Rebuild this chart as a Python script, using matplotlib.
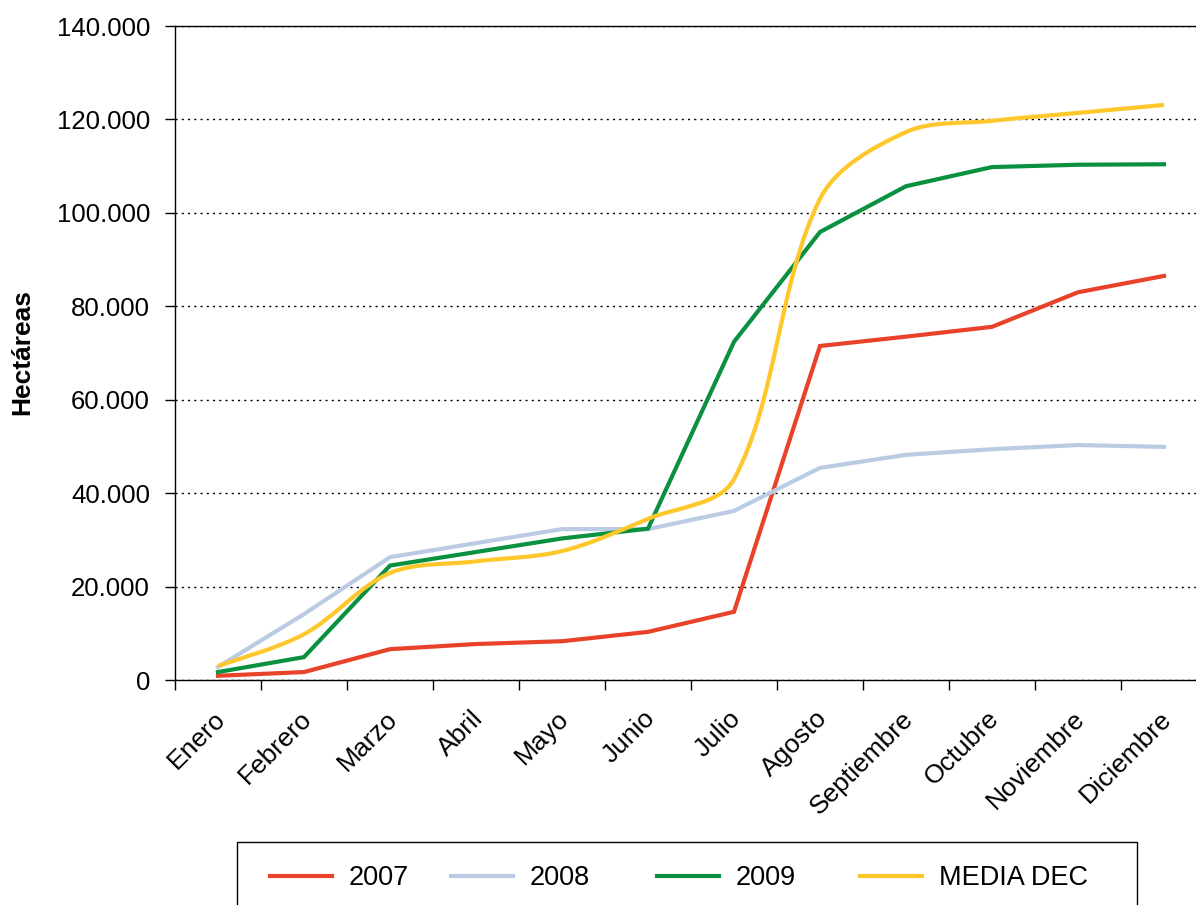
import matplotlib
matplotlib.use("Agg")
import matplotlib.pyplot as plt
import matplotlib.transforms as mtransforms
from matplotlib.path import Path
from matplotlib.patches import PathPatch, Rectangle
from matplotlib.lines import Line2D
from matplotlib.ticker import FuncFormatter, FixedLocator
import numpy as np

# ------------------------------------
# Data
# ------------------------------------
months = ['Enero', 'Febrero', 'Marzo', 'Abril', 'Mayo', 'Junio', 'Julio',
          'Agosto', 'Septiembre', 'Octubre', 'Noviembre', 'Diciembre']

ha_2007 = [900, 1700, 6600, 7700, 8300, 10300, 14600,
           71500, 73500, 75600, 83000, 86500]
ha_2008 = [2800, 14100, 26300, 29300, 32300, 32300, 36200,
           45400, 48200, 49400, 50300, 49900]
ha_2009 = [1700, 4900, 24500, 27400, 30300, 32400, 72400,
           95900, 105700, 109800, 110300, 110400]
media_dec = [3000, 9800, 22900, 25400, 27600, 34500, 43000,
             103000, 117300, 119700, 121400, 123100]

series_names = ['2007', '2008', '2009', 'MEDIA DEC']
colors = ['#E9422A', '#BCCBE4', '#0A9140', '#FEC82C']

plt.rcParams['font.family'] = ['Liberation Sans', 'DejaVu Sans']
FS = 18.5

# ------------------------------------
# Figure
# ------------------------------------
fig = plt.figure(figsize=(11.96, 9.05), dpi=100)
ax = fig.add_axes([175 / 1196, 1 - 680 / 905, 1032 / 1196, 654 / 905])
ax.set_xlim(-0.5, len(months) - 0.5)
ax.set_ylim(0, 140000)

x = list(range(len(months)))
lw = 3.0

ax.plot(x, ha_2007, color=colors[0], lw=lw, solid_joinstyle='miter', zorder=3)
ax.plot(x, ha_2008, color=colors[1], lw=lw, solid_joinstyle='miter', zorder=3)
ax.plot(x, ha_2009, color=colors[2], lw=lw, solid_joinstyle='miter', zorder=3)


# smoothed line (Excel style) for the average, built in screen space
def smooth_path(xs, ys, tension=1 / 3):
    pts = ax.transData.transform(np.column_stack([xs, ys]))
    n = len(pts)
    d = [np.hypot(*(pts[i + 1] - pts[i])) for i in range(n - 1)]
    tang = []
    for i in range(n):
        a = pts[max(i - 1, 0)]
        b = pts[min(i + 1, n - 1)]
        tang.append(b - a)
    verts = [pts[0]]
    codes = [Path.MOVETO]
    for i in range(n - 1):
        dl = d[i - 1] if i > 0 else d[i]
        dr = d[i + 1] if i + 1 < n - 1 else d[i]
        c1 = pts[i] + tang[i] * tension * d[i] / (dl + d[i])
        c2 = pts[i + 1] - tang[i + 1] * tension * d[i] / (d[i] + dr)
        verts += [c1, c2, pts[i + 1]]
        codes += [Path.CURVE4] * 3
    verts = ax.transData.inverted().transform(np.array(verts))
    return Path(verts, codes)


ax.add_patch(PathPatch(smooth_path(x, media_dec), fill=False,
                       edgecolor=colors[3], lw=lw, zorder=4))

# ------------------------------------
# Axes styling
# ------------------------------------
ax.set_yticks(range(0, 140001, 20000))
ax.yaxis.set_major_formatter(FuncFormatter(lambda v, p: f"{int(v):,}".replace(',', '.')))
ax.tick_params(axis='y', direction='out', length=7, width=1, pad=11,
               labelsize=FS, colors='black')

ax.set_xticks(x)
ax.set_xticklabels(months, rotation=45, ha='right', va='top',
                   rotation_mode='anchor', fontsize=19)
ax.tick_params(axis='x', which='major', length=0, pad=19)
shift = mtransforms.ScaledTranslation(-5 / 100, 0, fig.dpi_scale_trans)
for lab in ax.get_xticklabels():
    lab.set_transform(lab.get_transform() + shift)
ax.xaxis.set_minor_locator(FixedLocator([i - 0.5 for i in range(len(months) + 1)]))
ax.tick_params(axis='x', which='minor', direction='out', length=7, width=1)

ax.yaxis.grid(True, color='black', linestyle=(0, (1.5, 3)), lw=1.0)
ax.set_axisbelow(True)
for side in ['left', 'bottom', 'top', 'right']:
    ax.spines[side].set_linewidth(1.0)
    ax.spines[side].set_color('black')

fig.text(22 / 1196, 1 - 352 / 905, 'Hectáreas', rotation=90, ha='center',
         va='center', fontsize=19, weight='bold')

# ------------------------------------
# Legend
# ------------------------------------
fig.patches.append(Rectangle((237 / 1196, -0.05), (1137 - 237) / 1196,
                             (905 - 842) / 905 + 0.05, transform=fig.transFigure,
                             fill=False, edgecolor='black', lw=1.0))
legend_x = [270, 451, 657, 860]
for name, c, lx in zip(series_names, colors, legend_x):
    leg = fig.legend([Line2D([], [], color=c, lw=lw)], [name], loc='center left',
                     bbox_to_anchor=(lx / 1196, 1 - 878 / 905), frameon=False,
                     fontsize=19.5, handlelength=2.3, handletextpad=0.62,
                     borderpad=0, borderaxespad=0)

fig.savefig('out.png', dpi=100)
